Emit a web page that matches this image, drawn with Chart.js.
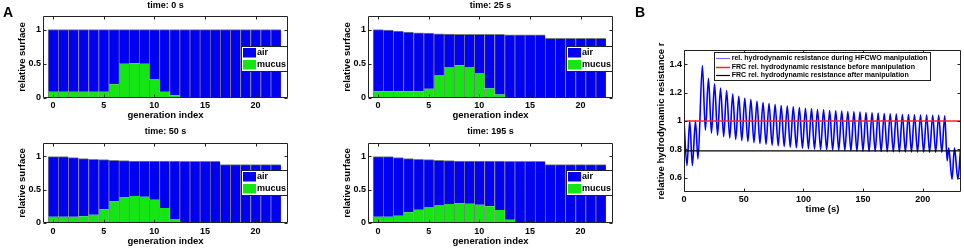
<!DOCTYPE html>
<html><head><meta charset="utf-8">
<script src="https://cdn.jsdelivr.net/npm/chart.js@4/dist/chart.umd.min.js"></script>
<style>
html,body{margin:0;padding:0;background:#fff;}
#wrap{position:relative;width:964px;height:248px;overflow:hidden;background:#fff;}
canvas{position:absolute;}
.lbl{position:absolute;font:bold 14px "Liberation Sans",Arial,sans-serif;line-height:14px;color:#000;}
</style></head><body>
<div id="wrap">
<canvas id="c0"></canvas><canvas id="c1"></canvas><canvas id="c2"></canvas><canvas id="c3"></canvas><canvas id="cB"></canvas>
<div class="lbl" style="left:3px;top:5px">A</div>
<div class="lbl" style="left:635px;top:5px">B</div>
</div>
<script>
// ---------- data ----------
const generations = [0,1,2,3,4,5,6,7,8,9,10,11,12,13,14,15,16,17,18,19,20,21,22];

const total0   = [1,1,1,1,1,1,1,1,1,1,1,1,1,1,1,1,1,1,1,1,1,1,1];
const mucus0   = [0.09,0.09,0.09,0.09,0.09,0.09,0.2,0.5,0.51,0.5,0.27,0.09,0.04,0.003,0.003,0.003,0.003,0,0,0,0,0,0];

const total25  = [1.0,0.995,0.98,0.965,0.955,0.95,0.94,0.935,0.93,0.93,0.93,0.93,0.93,0.925,0.925,0.925,0.925,0.875,0.875,0.875,0.875,0.875,0.875];
const mucus25  = [0.1,0.1,0.1,0.1,0.1,0.135,0.335,0.445,0.48,0.455,0.365,0.14,0.05,0.003,0.003,0.003,0.003,0,0,0,0,0,0];

const total50  = [0.995,0.995,0.98,0.965,0.955,0.95,0.94,0.935,0.93,0.93,0.93,0.93,0.93,0.925,0.925,0.925,0.925,0.875,0.875,0.875,0.875,0.875,0.875];
const mucus50  = [0.095,0.095,0.095,0.1,0.125,0.205,0.325,0.385,0.405,0.395,0.35,0.225,0.06,0.003,0.003,0.003,0.003,0,0,0,0,0,0];

const total195 = [0.995,0.995,0.98,0.965,0.955,0.95,0.94,0.935,0.93,0.93,0.93,0.93,0.93,0.925,0.925,0.925,0.925,0.875,0.875,0.875,0.875,0.875,0.875];
const mucus195 = [0.095,0.095,0.11,0.16,0.2,0.24,0.27,0.285,0.295,0.29,0.275,0.25,0.195,0.05,0.003,0.003,0.003,0,0,0,0,0,0];

const barXTicks = [0,5,10,15,20];
const barYTicks = [0,0.5,1];

// panel B: relative hydrodynamic resistance over time (s)
const timeB = [0,2.5,4.8,7.0,9.6,11.7,
 15.4,17.9,20.5,23.0,25.6,28.1,30.6,33.2,35.7,38.3,40.8,43.3,45.9,48.4,50.9,53.5,56.0,58.6,61.1,63.6,
 66.2,68.7,71.2,73.8,76.3,78.9,81.4,83.9,86.5,89.0,91.5,94.1,96.6,99.2,101.7,104.2,106.8,109.3,111.8,114.4,
 116.9,119.5,122.0,124.5,127.1,129.6,132.1,134.7,137.2,139.8,142.3,144.8,147.4,149.9,152.4,155.0,157.5,160.1,
 162.6,165.1,167.7,170.2,172.7,175.3,177.8,180.4,182.9,185.4,188.0,190.5,193.0,195.6,198.1,200.7,203.2,205.7,
 208.3,210.8,213.3,215.9,218.4,
 220.4,221.7,224.5,226.5,229.4,231.6];
const rB = [1.0,0.686,1.0,0.686,1.0,0.733,
 1.39,0.935,1.30,0.915,1.262,0.9,1.232,0.89,1.214,0.88,1.19,0.87,1.174,0.862,1.16,0.855,1.151,0.848,1.139,0.842,
 1.13,0.836,1.123,0.83,1.116,0.825,1.109,0.82,1.105,0.816,1.10,0.812,1.095,0.808,1.09,0.805,1.086,0.802,1.081,0.8,
 1.079,0.798,1.074,0.796,1.072,0.794,1.07,0.792,1.067,0.79,1.065,0.789,1.063,0.788,1.06,0.787,1.058,0.786,
 1.056,0.785,1.053,0.784,1.051,0.783,1.049,0.783,1.046,0.782,1.046,0.782,1.044,0.781,1.042,0.781,1.042,0.78,
 1.04,0.78,1.04,0.78,1.037,
 0.72,0.81,0.59,0.81,0.59,0.8];
const frcBefore = 1.0;
const frcAfter = 0.79;
const timeRange = [0,232];
const bXTicks = [0,50,100,150,200];
const bYTicks = [0.6,0.8,1,1.2,1.4];

// ---------- styling ----------
const FONT = '"Liberation Sans", Arial, Helvetica, sans-serif';
Chart.defaults.font.family = FONT;
Chart.defaults.font.weight = 'bold';
Chart.defaults.color = '#000';
const BLUE = '#0000f2';
const GREEN = '#14e614';
const EDGE = '#7c7c7c';

const matlabPlugin = {
  id: 'mbox',
  afterDraw(chart, args, o) {
    const {ctx, chartArea: a} = chart;
    const xs = chart.scales.x, ys = chart.scales.y;
    ctx.save();
    const L = Math.round(a.left)+0.5, R = Math.round(a.right)-0.5, T = Math.round(a.top)+0.5, B = Math.round(a.bottom)-0.5;
    ctx.strokeStyle = '#222'; ctx.lineWidth = 1;
    ctx.beginPath();
    ctx.rect(L, T, R-L, B-T);
    const tl = 3;
    o.xTicks.forEach(v => { const p = Math.round(xs.getPixelForValue(v))+0.5; ctx.moveTo(p,B); ctx.lineTo(p,B-tl); ctx.moveTo(p,T); ctx.lineTo(p,T+tl); });
    o.yTicks.forEach(v => { const p = Math.round(ys.getPixelForValue(v))+0.5; ctx.moveTo(L,p); ctx.lineTo(L+tl,p); ctx.moveTo(R,p); ctx.lineTo(R-tl,p); });
    ctx.stroke();
    if (o.title) {
      ctx.fillStyle = '#000'; ctx.font = 'bold 9px ' + FONT;
      ctx.textAlign = 'center'; ctx.textBaseline = 'middle';
      ctx.fillText(o.title, (a.left+a.right)/2, a.top - o.titleGap);
    }
    const lg = o.legend;
    if (lg) {
      const bx = Math.round(lg.fromRight ? a.right - lg.dx - lg.w : a.left + lg.dx);
      const by = Math.round(a.top + lg.dy);
      let size = lg.size;
      if (lg.fitWidth) {
        ctx.font = 'bold 10px ' + FONT;
        const longest = Math.max(...lg.items.map(it => ctx.measureText(it.label).width));
        size = 10 * lg.fitWidth / longest;
      }
      ctx.fillStyle = '#fff'; ctx.fillRect(bx, by, lg.w, lg.h);
      ctx.strokeStyle = '#222'; ctx.lineWidth = 1; ctx.strokeRect(bx+0.5, by+0.5, lg.w, lg.h);
      ctx.font = 'bold ' + size + 'px ' + FONT;
      ctx.textAlign = 'left'; ctx.textBaseline = 'middle';
      lg.items.forEach((it, i) => {
        const cy = by + lg.rows[i];
        if (it.kind === 'box') {
          ctx.fillStyle = it.color; ctx.fillRect(bx+2, Math.round(cy-4.5), 13, 9.5);
        } else {
          ctx.strokeStyle = it.color; ctx.lineWidth = it.lw; ctx.beginPath();
          ctx.moveTo(bx+2, Math.round(cy)+0.5); ctx.lineTo(bx+16, Math.round(cy)+0.5); ctx.stroke();
        }
        ctx.fillStyle = '#000'; ctx.fillText(it.label, bx + lg.textX, cy);
      });
    }
    ctx.restore();
  }
};

function place(id, left, top, w, h) {
  const c = document.getElementById(id);
  c.width = w; c.height = h;
  c.style.left = left + 'px'; c.style.top = top + 'px';
  c.style.width = w + 'px'; c.style.height = h + 'px';
  return c;
}

function barChart(id, title, mucus, total, p) {
  const air = total.map((t, i) => +(t - mucus[i]).toFixed(4));
  const W = 310, H = 124;
  const c = place(id, p.left, p.top, W, H);
  new Chart(c, {
    type: 'bar',
    data: {datasets: [
      {label: 'mucus', data: generations.map((g, i) => ({x: g, y: mucus[i]})), backgroundColor: GREEN,
       borderColor: EDGE, borderWidth: {left: 1, right: 0, top: 0, bottom: 0}, borderSkipped: false,
       categoryPercentage: 1, barPercentage: 1},
      {label: 'air', data: generations.map((g, i) => ({x: g, y: air[i]})), backgroundColor: BLUE,
       borderColor: EDGE, borderWidth: {left: 1, right: 0, top: 1, bottom: 0}, borderSkipped: false,
       categoryPercentage: 1, barPercentage: 1}
    ]},
    options: {
      responsive: false, animation: false, devicePixelRatio: 1,
      layout: {padding: {left: 0, top: p.padTop, right: W - 288, bottom: 0}},
      plugins: {legend: {display: false}, tooltip: {enabled: false}, title: {display: false},
        mbox: {xTicks: barXTicks, yTicks: barYTicks, title: title, titleGap: p.titleGap,
          legend: {fromRight: true, dx: 1.5, dy: p.legDy, w: 46, h: 25, size: 9, textX: 16, rows: [6.2, 18.5],
            items: [{label: 'air', color: BLUE, kind: 'box'}, {label: 'mucus', color: GREEN, kind: 'box'}]}}},
      scales: {
        x: {type: 'linear', stacked: true, min: -1, max: 23.2, offset: false,
          grid: {display: false, drawTicks: false}, border: {display: false},
          ticks: {font: {size: 9, weight: 'bold'}, padding: p.xTickPad, maxRotation: 0, callback: v => String(v)},
          afterBuildTicks: s => { s.ticks = barXTicks.map(v => ({value: v})); },
          afterFit: s => { s.height = p.xH; },
          title: {display: true, text: 'generation index', font: {size: 9.5, weight: 'bold'}, padding: {top: 0, bottom: p.xTitlePad}}},
        y: {type: 'linear', stacked: true, min: 0, max: 1.2,
          grid: {display: false, drawTicks: false}, border: {display: false},
          ticks: {font: {size: 9, weight: 'bold'}, padding: 2, callback: v => String(v)},
          afterBuildTicks: s => { s.ticks = barYTicks.map(v => ({value: v})); },
          afterFit: s => { s.width = 43; },
          title: {display: true, text: 'relative surface', font: {size: 9.5, weight: 'bold'}, padding: {top: 16.6, bottom: 0}}}
      }
    },
    plugins: [matlabPlugin]
  });
}

barChart('c0', 'time: 0 s', mucus0, total0, {left: 0, top: 0, padTop: 16, xH: 26, xTickPad: 2, xTitlePad: 3.3, titleGap: 10.7, legDy: 29.7});
barChart('c1', 'time: 25 s', mucus25, total25, {left: 325, top: 0, padTop: 16, xH: 26, xTickPad: 2, xTitlePad: 3.3, titleGap: 10.7, legDy: 29.7});
barChart('c2', 'time: 50 s', mucus50, total50, {left: 0, top: 124, padTop: 19, xH: 25, xTickPad: 3, xTitlePad: 1, titleGap: 11.7, legDy: 26.7});
barChart('c3', 'time: 195 s', mucus195, total195, {left: 325, top: 124, padTop: 19, xH: 25, xTickPad: 3, xTitlePad: 1, titleGap: 11.7, legDy: 26.7});

// panel B
(function () {
  const W = 324, H = 248;
  const c = place('cB', 640, 0, W, H);
  const labels = ['rel. hydrodynamic resistance during HFCWO manipulation',
                  'FRC rel. hydrodynamic resistance before manipulation',
                  'FRC rel. hydrodynamic resistance after manipulation'];
  new Chart(c, {
    type: 'line',
    data: {datasets: [
      {label: labels[0], data: timeB.map((t, i) => ({x: t, y: rB[i]})), borderColor: '#0000ff', borderWidth: 1.6,
       pointRadius: 0, cubicInterpolationMode: 'monotone', order: 3},
      {label: labels[1], data: timeRange.map(t => ({x: t, y: frcBefore})), borderColor: '#ff2020', borderWidth: 1.3, pointRadius: 0, order: 1},
      {label: labels[2], data: timeRange.map(t => ({x: t, y: frcAfter})), borderColor: '#000', borderWidth: 1.2, pointRadius: 0, order: 2}
    ]},
    options: {
      responsive: false, animation: false, devicePixelRatio: 1,
      layout: {padding: {left: 0, top: 50, right: 3, bottom: 0}},
      plugins: {legend: {display: false}, tooltip: {enabled: false}, title: {display: false},
        mbox: {xTicks: bXTicks, yTicks: bYTicks,
          legend: {fromRight: false, dx: 30, dy: 1.7, w: 216, h: 28, fitWidth: 196, textX: 17.7, rows: [5.6, 14.6, 23],
            items: [{label: labels[0], color: '#7070ff', kind: 'line', lw: 1.2},
                    {label: labels[1], color: '#ff2020', kind: 'line', lw: 1.5},
                    {label: labels[2], color: '#000', kind: 'line', lw: 1.2}]}}},
      scales: {
        x: {type: 'linear', min: timeRange[0], max: timeRange[1],
          grid: {display: false, drawTicks: false}, border: {display: false},
          ticks: {font: {size: 9, weight: 'bold'}, padding: 2.6, maxRotation: 0, callback: v => String(v)},
          afterBuildTicks: s => { s.ticks = bXTicks.map(v => ({value: v})); },
          afterFit: s => { s.height = 56; },
          title: {display: true, text: 'time (s)', font: {size: 9.5, weight: 'bold'}, padding: {top: 0, bottom: 32.6}}},
        y: {type: 'linear', min: 0.5, max: 1.5,
          grid: {display: false, drawTicks: false}, border: {display: false},
          ticks: {font: {size: 9, weight: 'bold'}, padding: 2, callback: v => String(v)},
          afterBuildTicks: s => { s.ticks = bYTicks.map(v => ({value: v})); },
          afterFit: s => { s.width = 44; },
          title: {display: true, text: 'relative hydrodynamic resistance r', font: {size: 9.5, weight: 'bold'}, padding: {top: 16, bottom: 0}}}
      }
    },
    plugins: [matlabPlugin]
  });
})();
</script>
</body></html>
